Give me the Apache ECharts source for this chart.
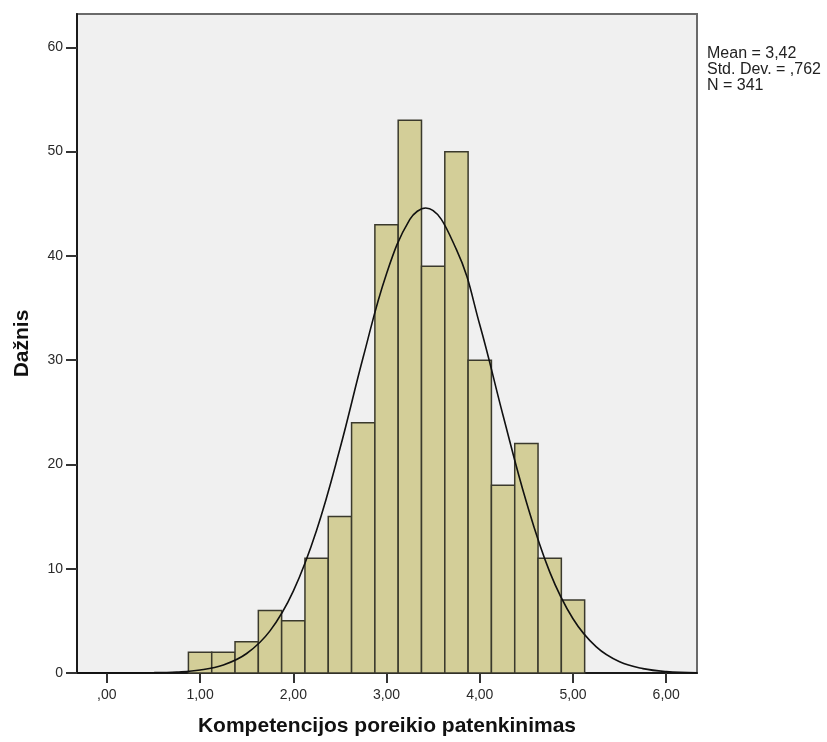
<!DOCTYPE html>
<html>
<head>
<meta charset="utf-8">
<script src="https://cdn.jsdelivr.net/npm/echarts@6/dist/echarts.min.js"></script>
<style>
	html, body { margin: 0; padding: 0; background: #fff; }
	#hist { width: 827px; height: 742px; }
</style>
</head>
<body>
<div id="hist"></div>
<script>
	// histogram bins (centers) and counts
	var binCenters = [1.00, 1.25, 1.50, 1.75, 2.00, 2.25, 2.50, 2.75, 3.00, 3.25, 3.50, 3.75, 4.00, 4.25, 4.50, 4.75, 5.00];
	var binCounts = [2, 2, 3, 6, 5, 11, 15, 24, 43, 53, 39, 50, 30, 18, 22, 11, 7];
	var binWidth = 0.25;

	// normal curve, points
	var curveX = [-0.32, 0, 0.5, 0.75, 1.00, 1.25, 1.50, 1.75, 2.00, 2.25, 2.50, 2.75, 3.00, 3.25, 3.42, 3.75, 4.00, 4.25, 4.50, 4.75, 5.00, 5.25, 5.50, 5.75, 6.00, 6.33];
	var curveY = [0, 0, 0.03, 0.1, 0.29, 0.77, 1.87, 4.04, 7.86, 13.7, 21.5, 30.3, 38.3, 43.5, 44.6, 40.6, 33.4, 24.7, 16.4, 9.7, 5.2, 2.5, 1.07, 0.42, 0.14, 0.03];

	// tick values and labels
	var xTickValues = [0, 1, 2, 3, 4, 5, 6];
	var xTickLabels = [',00', '1,00', '2,00', '3,00', '4,00', '5,00', '6,00'];
	var yTickValues = [0, 10, 20, 30, 40, 50, 60];

	var statLines = ['Mean = 3,42', 'Std. Dev. = ,762', 'N = 341'];

	var fontName = 'Liberation Sans, Arial, sans-serif';

	var histData = [];
	for(let i = 0; i < binCenters.length; i++){
		histData.push([binCenters[i], binCounts[i]]);
	}
	var curveData = [];
	for(let i = 0; i < curveX.length; i++){
		curveData.push([curveX[i], curveY[i]]);
	}

	var histChart = echarts.init(document.getElementById('hist'));

	var histOption = {
		animation: false,
		backgroundColor: '#ffffff',
		grid: {
			left: 77,
			right: 130,
			top: 14,
			bottom: 69,
			show: true,
			backgroundColor: '#F0F0F0',
			borderColor: '#6a6a6a',
			borderWidth: 2
		},
		graphic: [{
			type: 'text',
			left: 707,
			top: 46,
			style: {
				text: statLines.join('\n'),
				font: '16px ' + fontName,
				fill: '#222',
				lineHeight: 16
			}
		}],
		xAxis: {
			type: 'value',
			min: -0.32,
			max: 6.33,
			name: 'Kompetencijos poreikio patenkinimas',
			nameLocation: 'middle',
			nameGap: 43,
			nameTextStyle: {
				fontFamily: fontName,
				fontSize: 21,
				fontWeight: 'bold',
				color: '#111'
			},
			splitLine: { show: false },
			axisLine: {
				onZero: false,
				lineStyle: { color: '#1a1a1a', width: 2 }
			},
			axisTick: {
				customValues: xTickValues,
				length: 10,
				lineStyle: { color: '#333', width: 2 }
			},
			axisLabel: {
				customValues: xTickValues,
				margin: 15,
				fontFamily: fontName,
				fontSize: 14,
				color: '#2a2a2a',
				formatter: function(value){
					var idx = xTickValues.indexOf(value);
					return idx >= 0 ? xTickLabels[idx] : '';
				}
			}
		},
		yAxis: {
			type: 'value',
			min: 0,
			max: 63.2,
			name: 'Dažnis',
			nameLocation: 'middle',
			nameGap: 44,
			nameTextStyle: {
				fontFamily: fontName,
				fontSize: 21,
				fontWeight: 'bold',
				color: '#111'
			},
			splitLine: { show: false },
			axisLine: {
				show: true,
				onZero: false,
				lineStyle: { color: '#1a1a1a', width: 2 }
			},
			axisTick: {
				show: true,
				customValues: yTickValues,
				length: 11,
				lineStyle: { color: '#333', width: 2 }
			},
			axisLabel: {
				customValues: yTickValues,
				margin: 14,
				fontFamily: fontName,
				fontSize: 14,
				color: '#2a2a2a'
			}
		},
		series: [
			{
				name: 'hist',
				type: 'custom',
				data: histData,
				renderItem: function(params, api){
					var center = api.value(0);
					var count = api.value(1);
					var p0 = api.coord([center - binWidth / 2, count]);
					var p1 = api.coord([center + binWidth / 2, 0]);
					return {
						type: 'rect',
						shape: { x: p0[0], y: p0[1], width: p1[0] - p0[0], height: p1[1] - p0[1] },
						style: { fill: '#D3CE98', stroke: '#3a392c', lineWidth: 1.5 }
					};
				},
				z: 2
			},
			{
				name: 'normal',
				type: 'line',
				data: curveData,
				smooth: 0.4,
				showSymbol: false,
				lineStyle: { color: '#111', width: 1.6 },
				z: 3
			}
		]
	};
	histChart.setOption(histOption);
</script>
</body>
</html>
